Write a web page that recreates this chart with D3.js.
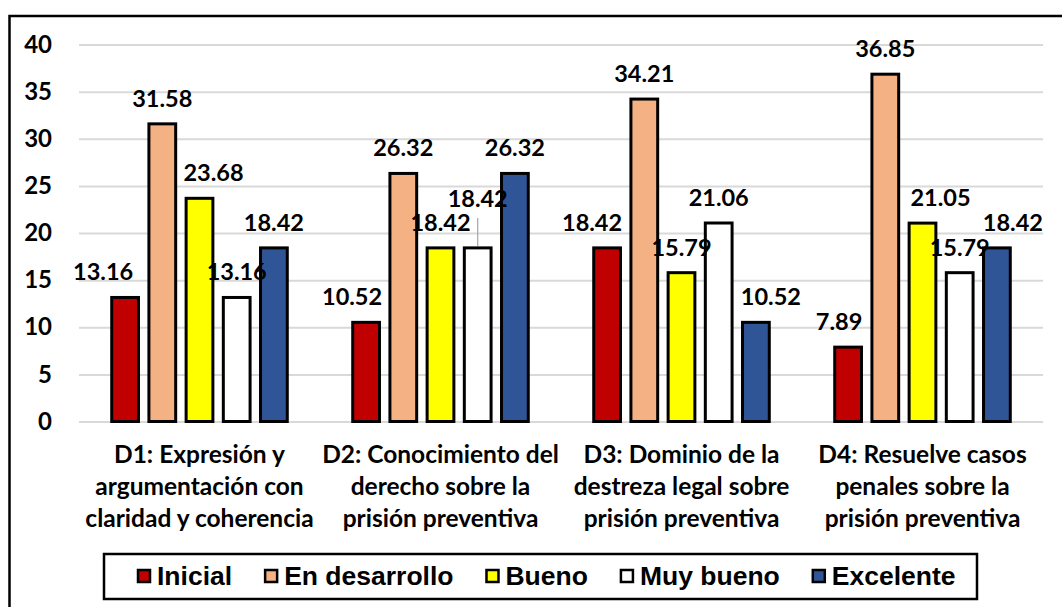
<!DOCTYPE html>
<html>
<head>
<meta charset="utf-8">
<script src="https://cdn.jsdelivr.net/npm/d3@7"></script>
<style>
  body { margin: 0; background: #fff; }
  svg { display: block; }
</style>
</head>
<body>
<div id="chart"></div>
<script>
(function () {

// ---- data ----
var categories = ['D1', 'D2', 'D3', 'D4']
var categoryLines = [
  ['D1: Expresión y', 'argumentación con', 'claridad y coherencia'],
  ['D2: Conocimiento del', 'derecho sobre la', 'prisión preventiva'],
  ['D3: Dominio de la', 'destreza legal sobre', 'prisión preventiva'],
  ['D4: Resuelve casos', 'penales sobre la', 'prisión preventiva']
]
var seriesNames = ['Inicial', 'En desarrollo', 'Bueno', 'Muy bueno', 'Excelente']
var inicial      = [13.16, 10.52, 18.42, 7.89]
var enDesarrollo = [31.58, 26.32, 34.21, 36.85]
var bueno        = [23.68, 18.42, 15.79, 21.05]
var muyBueno     = [13.16, 18.42, 21.06, 15.79]
var excelente    = [18.42, 26.32, 10.52, 18.42]
var yTicks = [0, 5, 10, 15, 20, 25, 30, 35, 40]

var seriesValues = [inicial, enDesarrollo, bueno, muyBueno, excelente]
var colors = ['#c00000', '#f4b183', '#ffff00', '#ffffff', '#2f5597']

// label nudges (excel moved some labels to avoid overlap) [category][series] -> [dx, dy]
var labelNudge = [
  [[-22, 0], [0, 0], [14, 0], [0, 0], [0, 0]],
  [[-14, 0], [0, 0], [0, 0], [0, -24], [0, 0]],
  [[-15, 0], [0, 0], [0, 0], [0, 0], [15, 0]],
  [[-9, 0], [0, 0], [18, 0], [0, 0], [16, 0]]
]

var W = 1062, H = 607
var plot = { left: 79, right: 1043, top: 44.5, bottom: 421.5 }

var svg = d3.select('#chart').append('svg')
    .attr('width', W)
    .attr('height', H)

// outer frame (runs off the right / bottom edge like the source)
svg.append('rect')
    .attr('x', 9.5)
    .attr('y', 16)
    .attr('width', 1080)
    .attr('height', 640)
    .attr('fill', '#fff')
    .attr('stroke', '#000')
    .attr('stroke-width', 2.5)

var y = d3.scaleLinear()
    .domain([0, 40])
    .range([plot.bottom, plot.top])

var x0 = d3.scaleBand()
    .domain(categories)
    .range([plot.left, plot.right])

var x1 = d3.scaleBand()
    .domain(seriesNames)
    .range([27.5, x0.bandwidth() - 27.5])
    .paddingInner(0.2)
    .paddingOuter(0.1)

// y axis with gridlines
var yAxis = d3.axisLeft(y)
    .tickValues(yTicks)
    .tickSizeInner(-(plot.right - plot.left))
    .tickSizeOuter(0)
    .tickPadding(27)

var yG = svg.append('g')
    .attr('transform', 'translate(' + plot.left + ',0)')
    .call(yAxis)
yG.select('.domain').remove()
yG.selectAll('.tick line')
    .attr('stroke', '#d9d9d9')
    .attr('stroke-width', 2)
yG.selectAll('.tick text')
    .attr('fill', '#000')
    .style('font-family', 'Lato, sans-serif')
    .style('font-weight', 'bold')
    .style('font-size', '24px')

// bars
var rows = []
categories.forEach(function (c, ci) {
  seriesNames.forEach(function (s, si) {
    rows.push({ cat: c, ci: ci, series: s, si: si, value: seriesValues[si][ci] })
  })
})

var groups = svg.selectAll('.cat')
    .data(categories)
    .enter().append('g')
    .attr('class', 'cat')
    .attr('transform', function (d) { return 'translate(' + x0(d) + ',0)' })

groups.selectAll('rect')
    .data(function (d, ci) { return rows.filter(function (r) { return r.ci === ci }) })
    .enter().append('rect')
    .attr('x', function (d) { return x1(d.series) + 1.5 })
    .attr('y', function (d) { return y(d.value) })
    .attr('width', x1.bandwidth() - 3)
    .attr('height', function (d) { return y(0) - y(d.value) })
    .attr('fill', function (d) { return colors[d.si] })
    .attr('stroke', '#000')
    .attr('stroke-width', 3)

// leader line for the moved label
groups.filter(function (d, ci) { return ci === 1 })
    .append('line')
    .attr('x1', x1('Muy bueno') + x1.bandwidth() / 2)
    .attr('x2', x1('Muy bueno') + x1.bandwidth() / 2)
    .attr('y1', y(muyBueno[1]) - 30)
    .attr('y2', y(muyBueno[1]) - 2)
    .attr('stroke', '#a6a6a6')
    .attr('stroke-width', 1.2)

// value labels
groups.selectAll('.val')
    .data(function (d, ci) { return rows.filter(function (r) { return r.ci === ci }) })
    .enter().append('text')
    .attr('class', 'val')
    .attr('x', function (d) { return x1(d.series) + x1.bandwidth() / 2 + labelNudge[d.ci][d.si][0] })
    .attr('y', function (d) { return y(d.value) - 17 + labelNudge[d.ci][d.si][1] })
    .attr('text-anchor', 'middle')
    .style('font-family', 'Lato, sans-serif')
    .style('font-weight', 'bold')
    .style('font-size', '23.5px')
    .text(function (d) { return d.value.toFixed(2) })

// category labels, three lines each
var catText = svg.selectAll('.catlabel')
    .data(categories)
    .enter().append('text')
    .attr('class', 'catlabel')
    .attr('text-anchor', 'middle')
    .style('font-family', 'Lato, sans-serif')
    .style('font-weight', 'bold')
    .style('font-size', '24.5px')

catText.selectAll('tspan')
    .data(function (d, i) { return categoryLines[i] })
    .enter().append('tspan')
    .attr('x', function () { var c = d3.select(this.parentNode).datum(); return x0(c) + x0.bandwidth() / 2 })
    .attr('y', function (d, i) { return 463 + i * 32 })
    .text(function (d) { return d })

// legend
svg.append('rect')
    .attr('x', 104)
    .attr('y', 554)
    .attr('width', 873)
    .attr('height', 45)
    .attr('fill', '#fff')
    .attr('stroke', '#000')
    .attr('stroke-width', 2.5)

var lx = 138
seriesNames.forEach(function (s, i) {
  svg.append('rect')
      .attr('x', lx)
      .attr('y', 570)
      .attr('width', 12)
      .attr('height', 12)
      .attr('fill', colors[i])
      .attr('stroke', '#000')
      .attr('stroke-width', 2.5)
  var t = svg.append('text')
      .attr('x', lx + 19)
      .attr('y', 585)
      .style('font-family', '"Liberation Sans", Arial, sans-serif')
      .style('font-weight', 'bold')
      .style('font-size', '26.5px')
      .text(s)
  lx = lx + 19 + t.node().getComputedTextLength() + 33
})

})()
</script>
</body>
</html>
